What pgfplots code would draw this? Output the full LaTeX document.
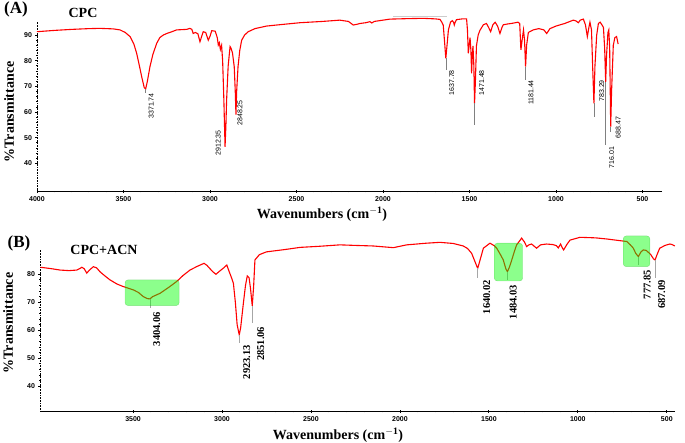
\documentclass[border=0pt]{standalone}
\usepackage{fontspec}
\setmainfont{Liberation Serif}
\setsansfont{Liberation Sans}
\usepackage{pgfplots}
\pgfplotsset{compat=1.18}
\pgfplotsset{
  irstyle/.style={
    scale only axis,
    axis lines=left,
    axis line style={-, line width=0.6pt},
    y axis line style={densely dotted},
    x dir=reverse,
    clip=false,
    tick align=center,
    major tick length=3pt,
    minor tick length=1.6pt,
    minor x tick num=4,
    minor y tick num=4,
    every tick/.style={black, line width=0.8pt},
    every minor tick/.style={black, line width=0.8pt},
    scaled x ticks=false,
    /pgf/number format/assume math mode=true,
    /pgf/number format/1000 sep={},
    tick label style={font=\sffamily\bfseries\fontsize{7}{8}\selectfont},
    xtick={500,1000,...,4000},
    ytick={40,50,...,90},
  }
}
\begin{document}
\begin{tikzpicture}
\useasboundingbox (0,0) rectangle (685pt,443pt);
% ---------------- Panel A ----------------
\begin{axis}[irstyle, at={(37pt,251.3pt)}, anchor=south west,
  width=625pt, height=170pt, xmin=387.5, xmax=4000, ymin=29, ymax=95.2]
\addplot[red, line width=1.1pt] table {
4000 91.3
3900 91.8
3800 92.2
3700 92.5
3636 92.6
3560 92.4
3520 92
3490 91
3462 89.4
3440 86.5
3424 82.9
3408 78
3395 73.8
3380 69.5
3372 69
3362 72
3347 77.7
3330 82.5
3308 86.8
3290 89
3270 90
3250 90.6
3220 91.3
3193 92
3135 92.2
3116 92.6
3105 92.2
3097 90.6
3085 91
3070 90.5
3058 87.4
3048 89.5
3039 91.3
3025 91
3010 88
3000 89.5
2990 91.7
2970 91.5
2958 89
2952 86.1
2946 87
2940 84.4
2933 86
2927 80
2920 65
2913 46.5
2908 55
2904 64.7
2895 78
2884 85.5
2878 84.8
2870 83
2860 77.7
2854 68
2850 59
2846 68
2838 77.7
2828 84
2817 88
2800 90
2779 91.3
2740 92.5
2673 93.5
2600 94
2480 94.8
2350 95.3
2250 95.8
2200 95.3
2172 93.9
2150 94.2
2133 94.5
2100 94.8
2075 95.2
2065 94.7
2050 95.3
1960 96.2
1850 96.4
1767 96.5
1700 96.3
1671 96.1
1660 95
1652 93.9
1645 88
1637 80.9
1630 86
1622 92
1610 95
1600 95.6
1592 95
1588 93.9
1583 95
1575 96
1540 96.3
1517 96.3
1512 92
1507 82.9
1502 86
1497 89
1492 84
1488 75.1
1484 82
1480 85.8
1475 78
1471 63.4
1466 72
1460 85.8
1450 90
1440 91.8
1420 94
1402 94.5
1390 93
1378 91.3
1365 94
1352 95
1338 93.5
1324 90.6
1312 93
1305 94
1280 94.3
1250 94.6
1220 95
1210 94.5
1203 84.2
1196 88
1188 92
1182 88
1176 77.7
1170 86
1160 91
1132 92
1100 92.5
1070 92
1054 90.6
1045 91.5
1035 92.5
1000 93.5
950 94.5
900 95.8
885 95.5
871 94.8
860 95.8
842 96.2
830 94
819 89.4
810 93
804 95
795 92
787 75
781 63.4
775 78
765 90
755 94.5
745 95
735 94
726 93
719 85
713 71.8
708 82
700 91
695 92
690 85
686 65
684 54.3
679 68
669 86
660 89
650 89.4
641 86.5
};
\draw[gray!40, line width=1pt] (axis cs:1942,97.3) -- (axis cs:1630,97.3);
\draw[gray, line width=0.6pt] (axis cs:3372,69) -- (axis cs:3372,67.5);
\draw[gray, line width=0.6pt] (axis cs:1637,80.9) -- (axis cs:1637,76.4);
\draw[gray, line width=0.6pt] (axis cs:1471,63.4) -- (axis cs:1471,55);
\draw[gray, line width=0.6pt] (axis cs:1176,77.7) -- (axis cs:1176,72.5);
\draw[gray, line width=0.6pt] (axis cs:781,63.4) -- (axis cs:781,58.2);
\draw[gray, line width=0.6pt] (axis cs:713,71.8) -- (axis cs:713,47.2);
\draw[gray, line width=0.6pt] (axis cs:684,54.3) -- (axis cs:684,52.4);
\begin{scope}[every node/.style={rotate=90, anchor=east, inner sep=0pt, font=\sffamily\fontsize{7}{8}\selectfont}]
\node at (axis cs:3340,67.4) {3371.74};
\node at (axis cs:2952,53) {2912.35};
\node at (axis cs:2827,64.7) {2848.25};
\node at (axis cs:1603,76.4) {1637.78};
\node at (axis cs:1430,76.4) {1471.48};
\node at (axis cs:1145,72.5) {1181.44};
\node at (axis cs:736,72.5) {783.29};
\node at (axis cs:678,46.5) {716.01};
\node at (axis cs:640,58.2) {688.47};
\end{scope}
\end{axis}
% ---------------- Panel B ----------------
\begin{axis}[irstyle, at={(40pt,31.3pt)}, anchor=south west,
  width=635pt, height=161.8pt, xmin=454, xmax=4023, ymin=30.9, ymax=88.7,
  xtick={500,1000,...,3500}, ytick={40,50,...,80}]
\addplot[red, line width=1.1pt] table {
4020 82.5
3960 82
3910 81.5
3860 81.3
3816 81.5
3800 82
3788 82.5
3775 82
3760 80.4
3745 81.5
3723 82.7
3705 82.3
3686 80.9
3660 79.5
3630 78
3590 76.5
3555 75.6
3498 74.4
3470 73.5
3442 72
3420 71.3
3405 71.2
3390 72
3348 73.2
3300 75.3
3255 77.4
3220 79.5
3180 81.5
3140 82.8
3101 83.9
3085 83.2
3068 82
3050 80.8
3034 80
3010 81.3
2990 82.3
2973 83.3
2960 81
2945 78.5
2936 76.8
2925 70
2915 62
2903 58.3
2895 61
2880 69.6
2868 76
2858 79.4
2848 78.8
2840 75
2830 68.7
2822 76
2815 85.1
2790 87
2750 88
2650 88.8
2561 89.6
2450 90
2337 90.5
2250 90.3
2150 90.1
2037 89.5
1962 90.5
1850 91.1
1775 91.4
1700 91
1644 90.1
1620 89.2
1597 87.5
1575 84
1563 82.1
1550 85
1531 89.3
1494 91.1
1470 90.2
1456 89.3
1435 87
1419 85.1
1405 82
1396 80.9
1385 82.5
1372 85
1355 88.5
1344 90.5
1316 92.9
1300 91.5
1288 89.9
1275 90.5
1260 90.8
1245 90
1232 89.3
1210 90.5
1176 90.8
1140 90.6
1120 90.2
1110 89.4
1097 90.8
1088 89.5
1080 88.7
1060 90.8
1044 92.2
988 93.2
900 93
838 92.6
763 92
725 91.7
705 90.5
688 89.3
675 87.5
660 86.3
645 88
632 88.7
615 88.5
590 87
575 85.5
566 85.1
555 87
540 89.3
510 90.3
483 90.8
470 90.6
455 90.1
};
\draw[gray!70, line width=0.8pt] (axis cs:3405,71.2) -- (axis cs:3405,68);
\draw[gray!70, line width=0.8pt] (axis cs:2903,58.3) -- (axis cs:2903,55.4);
\draw[gray!70, line width=0.8pt] (axis cs:2830,68.7) -- (axis cs:2830,62.5);
\draw[gray!70, line width=0.8pt] (axis cs:1563,82.1) -- (axis cs:1563,78.6);
\draw[gray!70, line width=0.8pt] (axis cs:1396,80.9) -- (axis cs:1396,78);
\draw[gray!70, line width=0.8pt] (axis cs:660,86.3) -- (axis cs:660,83.3);
\draw[gray!70, line width=0.8pt] (axis cs:566,85.1) -- (axis cs:566,78.6);
\begin{scope}[rounded corners=3pt]
\fill[green, fill opacity=0.45, draw=green!60!black, draw opacity=0.3] (axis cs:3545,68.8) rectangle (axis cs:3241,78);
\fill[green, fill opacity=0.45, draw=green!60!black, draw opacity=0.3] (axis cs:1470,77.6) rectangle (axis cs:1310,91.1);
\fill[green, fill opacity=0.45, draw=green!60!black, draw opacity=0.3] (axis cs:745,82.7) rectangle (axis cs:595,93.7);
\end{scope}
\begin{scope}[every node/.style={rotate=90, anchor=east, inner sep=0pt, font=\bfseries\fontsize{10.5}{12}\selectfont}]
\node at (axis cs:3367,66.6) {3404.06};
\node at (axis cs:2861,54.8) {2923.13};
\node at (axis cs:2782,61.3) {2851.06};
\node at (axis cs:1512,78) {1640.02};
\node at (axis cs:1363,76.2) {1484.03};
\node at (axis cs:610,81.5) {777.85};
\node at (axis cs:529,78) {687.09};
\end{scope}
\end{axis}
% ---------------- Texts ----------------
\node[font=\bfseries\fontsize{17}{20}\selectfont] at (16pt,434pt) {(A)};
\node[font=\bfseries\fontsize{14}{16}\selectfont] at (83pt,430pt) {CPC};
\node[font=\bfseries\fontsize{17}{20}\selectfont] at (19pt,200pt) {(B)};
\node[font=\bfseries\fontsize{14}{16}\selectfont] at (104pt,193pt) {CPC+ACN};
\node[font=\bfseries\fontsize{14}{16}\selectfont] at (322pt,229pt) {Wavenumbers (cm$^{\mathbf{-1}}$)};
\node[font=\bfseries\fontsize{14}{16}\selectfont] at (338pt,8pt) {Wavenumbers (cm$^{\mathbf{-1}}$)};
\node[rotate=90, font=\bfseries\fontsize{14}{16}\selectfont] at (9pt,331pt) {\%Transmittance};
\node[rotate=90, font=\bfseries\fontsize{14}{16}\selectfont] at (8pt,120pt) {\%Transmittance};
\end{tikzpicture}
\end{document}
